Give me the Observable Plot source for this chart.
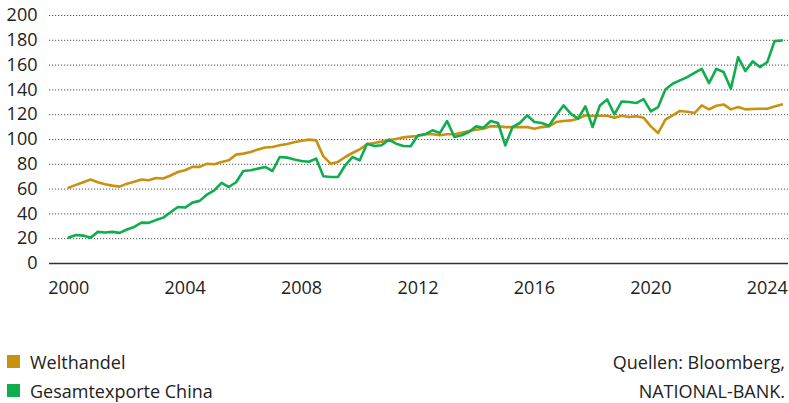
<!DOCTYPE html>
<html>
<head>
<meta charset="utf-8">
<script src="https://cdn.jsdelivr.net/npm/d3@7"></script>
<script src="https://cdn.jsdelivr.net/npm/@observablehq/plot@0.6"></script>
<style>
  html, body { margin: 0; padding: 0; background: #fff; }
  body { font-family: "Open Sans", sans-serif; color: #222; }
  #wrap { position: relative; width: 789px; height: 403px; overflow: hidden; }
  #chart { position: absolute; left: 0; top: 0; }
  .leg { position: absolute; font-size: 18px; line-height: 18px; white-space: nowrap; }
  .sw { position: absolute; width: 13px; height: 13px; }
  .src { position: absolute; right: 4px; font-size: 18px; line-height: 18px; text-align: right; white-space: nowrap; }
</style>
</head>
<body>
<div id="wrap">
  <div id="chart"></div>
  <div class="sw" id="sw1" style="left:7px;top:355px;"></div>
  <div class="leg" id="lg1" style="left:30px;top:353px;"></div>
  <div class="sw" id="sw2" style="left:7px;top:384px;"></div>
  <div class="leg" id="lg2" style="left:30px;top:382px;"></div>
  <div class="src" id="src1" style="top:353px;"></div>
  <div class="src" id="src2" style="top:382px;"></div>
</div>
<script>
// ---- data (quarterly, starting 2000 Q1) ----
const startYear = 2000;
const seriesNames = ["Welthandel", "Gesamtexporte China"];
const seriesColors = ["#c8910f", "#10ad4e"];
const sourceLines = ["Quellen: Bloomberg,", "NATIONAL-BANK."];

const welthandel = [
  61.2, 63.4, 65.5, 67.7, 65.5, 63.9, 62.8, 62.0, 64.4, 66.0,
  67.7, 67.1, 69.0, 68.5, 71.0, 73.8, 75.2, 77.9, 77.9, 80.5,
  80.0, 81.9, 83.2, 87.8, 88.6, 90.0, 92.0, 93.5, 94.0, 95.3,
  96.4, 97.7, 99.0, 99.9, 99.3, 86.4, 80.5, 81.9, 85.9, 89.1,
  92.1, 96.1, 97.2, 98.3, 99.6, 100.4, 101.7, 102.3, 102.8, 104.2,
  104.2, 103.4, 104.2, 104.2, 105.5, 106.8, 107.9, 108.7, 110.6, 110.6,
  110.0, 110.0, 110.0, 110.0, 108.7, 110.0, 110.6, 114.1, 114.9, 115.4,
  116.8, 119.5, 118.9, 119.2, 119.2, 117.6, 119.2, 118.1, 118.7, 117.6,
  110.6, 105.2, 116.0, 119.5, 123.0, 122.4, 121.3, 127.5, 124.3, 127.2,
  128.3, 124.3, 126.2, 124.3, 124.6, 124.8, 124.8, 126.7, 128.3
];

const chinaExporte = [
  20.9, 23.0, 22.5, 20.7, 25.5, 25.0, 25.5, 24.7, 27.4, 29.5,
  33.0, 32.8, 35.0, 37.0, 41.3, 45.6, 45.1, 49.1, 50.5, 55.6,
  59.0, 65.0, 61.7, 65.5, 74.6, 75.2, 76.5, 77.9, 74.6, 85.9,
  85.4, 83.8, 82.7, 82.1, 84.6, 70.3, 69.8, 69.8, 79.2, 85.9,
  83.2, 96.6, 94.8, 95.3, 99.9, 96.6, 94.8, 94.5, 103.4, 104.2,
  107.4, 105.2, 114.9, 102.0, 103.4, 106.0, 110.6, 109.5, 114.9, 113.3,
  95.3, 110.0, 113.3, 119.5, 114.1, 113.3, 111.1, 119.5, 127.5, 120.8,
  116.8, 126.7, 110.1, 127.5, 132.3, 120.3, 130.7, 130.2, 129.4, 132.6,
  122.7, 126.2, 140.4, 145.0, 147.7, 150.3, 153.8, 157.0, 145.5, 157.0,
  154.4, 140.9, 166.4, 155.2, 163.0, 158.4, 162.4, 179.3, 179.9
];

const yTicks = [0, 20, 40, 60, 80, 100, 120, 140, 160, 180, 200];
const xTicks = [2000, 2004, 2008, 2012, 2016, 2020, 2024];

// ---- build rows ----
const toRows = (arr, name) => arr.map((v, i) => ({t: startYear + i / 4, v, name}));
const rowsW = toRows(welthandel, seriesNames[0]);
const rowsC = toRows(chinaExporte, seriesNames[1]);

const chart = Plot.plot({
  width: 789,
  height: 300,
  marginLeft: 49,
  marginRight: 1,
  marginTop: 15,
  marginBottom: 37,
  style: {fontFamily: "'Open Sans', sans-serif", fontSize: "18px", color: "#222", background: "transparent", overflow: "visible"},
  x: {domain: [1999.34, 2024.73]},
  y: {domain: [0, 200]},
  marks: [
    Plot.gridY(yTicks.filter(d => d > 0), {stroke: "#333", strokeOpacity: 0.85, strokeWidth: 1, strokeDasharray: "1.2,1.8"}),
    Plot.axisY(yTicks, {tickSize: 0, tickPadding: 12, label: null, fill: "#222"}),
    Plot.axisX(xTicks, {tickSize: 0, tickPadding: 18, tickFormat: d => String(d), label: null, fill: "#222"}),
    Plot.ruleY([0], {stroke: "#333", strokeWidth: 1.3}),
    Plot.line(rowsW, {x: "t", y: "v", stroke: seriesColors[0], strokeWidth: 2.6, strokeLinejoin: "round", strokeLinecap: "round"}),
    Plot.line(rowsC, {x: "t", y: "v", stroke: seriesColors[1], strokeWidth: 2.6, strokeLinejoin: "round", strokeLinecap: "round"})
  ]
});
document.getElementById("chart").appendChild(chart);

document.getElementById("sw1").style.background = seriesColors[0];
document.getElementById("sw2").style.background = seriesColors[1];
document.getElementById("lg1").textContent = seriesNames[0];
document.getElementById("lg2").textContent = seriesNames[1];
document.getElementById("src1").textContent = sourceLines[0];
document.getElementById("src2").textContent = sourceLines[1];
</script>
</body>
</html>
